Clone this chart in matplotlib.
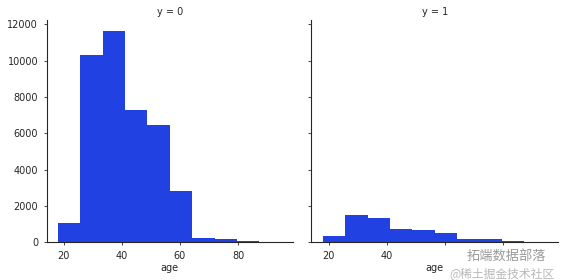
import numpy as np
import matplotlib
matplotlib.use("Agg")
import matplotlib.pyplot as plt

# age histogram, 10 bins over 18..95, one facet per target value
age_min, age_max = 18, 95
n_bins = 10
counts_y0 = [1070, 10300, 11650, 7300, 6470, 2830, 240, 180, 70, 15]
counts_y1 = [340, 1530, 1360, 740, 680, 510, 170, 170, 57, 10]
facet_titles = ["y = 0", "y = 1"]
xticks = [20, 40, 60, 80]
# on the right facet the watermark hides the 60 and 80 labels
xticklabels_right = ["20", "40", "", ""]
yticks = [0, 2000, 4000, 6000, 8000, 10000, 12000]

bar_color = "#2141e2"
text_color = "#262626"
cjk = ["Noto Sans CJK SC", "DejaVu Sans"]


def main():
    edges = np.linspace(age_min, age_max, n_bins + 1)
    centers = (edges[:-1] + edges[1:]) / 2

    fig = plt.figure(figsize=(5.68, 2.8), dpi=100)
    ax1 = fig.add_axes([0.0819, 0.1346, 0.434, 0.793])
    ax2 = fig.add_axes([0.5484, 0.1346, 0.434, 0.793], sharey=ax1)

    for ax, counts, title in zip([ax1, ax2], [counts_y0, counts_y1], facet_titles):
        ax.hist(centers, bins=edges, weights=counts, color=bar_color)
        ax.set_title(title, fontsize=7, color=text_color, pad=4)
        ax.set_xlabel("age", fontsize=7, color=text_color, labelpad=2)
        ax.set_xticks(xticks)
        ax.spines["top"].set_visible(False)
        ax.spines["right"].set_visible(False)
        ax.tick_params(labelsize=7, colors=text_color, length=2.5, width=0.6)
        for s in ("left", "bottom"):
            ax.spines[s].set_linewidth(0.8)
            ax.spines[s].set_color(text_color)

    ax1.set_yticks(yticks)
    ax1.set_ylim(0, max(counts_y0) * 1.05)
    ax2.tick_params(labelleft=False)
    ax2.set_xticklabels(xticklabels_right)

    # watermark from the source image
    fig.text(0.822, 0.070, "拓端数据部落", fontsize=9.5, color="#9a9a9a",
             family=cjk, ha="left")
    fig.text(0.792, 0.012, "@稀土掘金技术社区", fontsize=8.5, color="#b8b8b8",
             family=cjk, ha="left")

    fig.savefig("out.png", dpi=100)
    plt.close(fig)


if __name__ == "__main__":
    main()
